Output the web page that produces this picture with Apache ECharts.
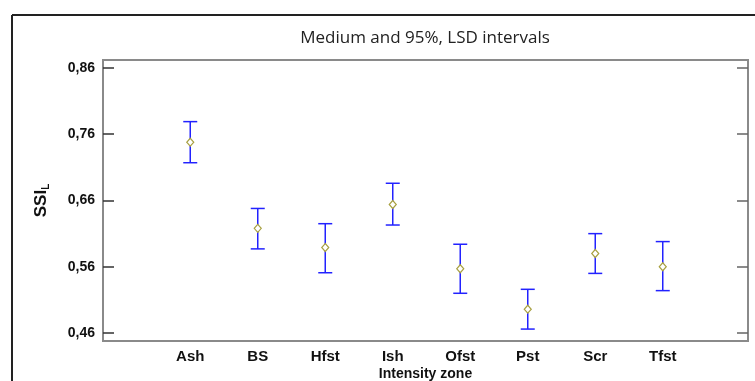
<!DOCTYPE html>
<html><head><meta charset="utf-8">
<script src="https://cdn.jsdelivr.net/npm/echarts@6/dist/echarts.min.js"></script>
<style>html,body{margin:0;padding:0;background:#fff}#c{width:755px;height:381px}</style>
</head><body><div id="c"></div>
<script>
const categories = ['Ash','BS','Hfst','Ish','Ofst','Pst','Scr','Tfst'];
const means = [0.748,0.618,0.589,0.654,0.557,0.496,0.580,0.560];
const lower = [0.717,0.587,0.551,0.623,0.520,0.466,0.550,0.524];
const upper = [0.779,0.648,0.625,0.686,0.594,0.526,0.610,0.598];
const yTicks = [0.46,0.56,0.66,0.76,0.86];
const yMin = 0.448, yMax = 0.872;

const chart = echarts.init(document.getElementById('c'));
const fmt = v => Number(v).toFixed(2).replace('.', ',');
const boldFont = 'Liberation Sans';
chart.setOption({
  animation: false,
  title: {text: 'Medium and 95%, LSD intervals', left: 420, top: 25, textAlign: 'center',
    textStyle: {fontFamily: 'Open Sans', fontWeight: 'normal', fontSize: 17, color: '#222'}},
  graphic: [
    {type: 'line', shape: {x1: 12, y1: 15, x2: 755, y2: 15}, style: {stroke: '#222', lineWidth: 2}},
    {type: 'line', shape: {x1: 12, y1: 15, x2: 12, y2: 381}, style: {stroke: '#222', lineWidth: 2}}
  ],
  grid: [
    {left: 103, top: 60, width: 645, height: 281, show: true, borderColor: '#8a8a8a', borderWidth: 2,
     backgroundColor: 'transparent', outerBoundsMode: 'none', containLabel: false},
    {left: 156.5, top: 60, width: 540, height: 281, outerBoundsMode: 'none', containLabel: false}
  ],
  xAxis: [
    {gridIndex: 0, type: 'value', min: 0, max: 1, axisLine: {show: false}, axisTick: {show: false},
     axisLabel: {show: false}, splitLine: {show: false},
     name: 'Intensity zone', nameLocation: 'middle', nameGap: 26,
     nameTextStyle: {fontFamily: boldFont, fontWeight: 'bold', fontSize: 14, color: '#111'}},
    {gridIndex: 1, type: 'category', data: categories, boundaryGap: true,
     axisLine: {show: false}, axisTick: {show: false}, splitLine: {show: false},
     axisLabel: {margin: 8, fontFamily: boldFont, fontWeight: 'bold', fontSize: 15, color: '#111'}}
  ],
  yAxis: [
    {gridIndex: 0, type: 'value', min: yMin, max: yMax, position: 'left',
     axisLine: {show: false}, splitLine: {show: false},
     axisTick: {show: true, inside: true, length: 11, customValues: yTicks, lineStyle: {color: '#333', width: 1.5}},
     axisLabel: {customValues: yTicks, formatter: fmt, margin: 8, fontFamily: boldFont, fontWeight: 'bold', fontSize: 14, color: '#111'},
     name: '{a|SSI}{b|L}', nameLocation: 'middle', nameGap: 52, nameRotate: 90,
     nameTextStyle: {rich: {
       a: {fontFamily: boldFont, fontWeight: 'bold', fontSize: 17, color: '#111'},
       b: {fontFamily: boldFont, fontWeight: 'bold', fontSize: 10, color: '#111', padding: [9, 0, 0, 0]}}}},
    {gridIndex: 0, type: 'value', min: yMin, max: yMax, position: 'right',
     axisLine: {show: false}, splitLine: {show: false}, axisLabel: {show: false},
     axisTick: {show: true, inside: true, length: 11, customValues: yTicks, lineStyle: {color: '#666', width: 1.5}}},
    {gridIndex: 1, type: 'value', min: yMin, max: yMax, show: false}
  ],
  series: [
    {type: 'custom', xAxisIndex: 1, yAxisIndex: 2,
     data: categories.map((c, i) => [i, lower[i], upper[i]]),
     renderItem: function (params, api) {
       const lo = api.coord([api.value(0), api.value(1)]);
       const hi = api.coord([api.value(0), api.value(2)]);
       const w = 7;
       const st = {stroke: '#2222ff', lineWidth: 1.5};
       return {type: 'group', children: [
         {type: 'line', shape: {x1: hi[0], y1: hi[1], x2: lo[0], y2: lo[1]}, style: st},
         {type: 'line', shape: {x1: hi[0]-w, y1: hi[1], x2: hi[0]+w, y2: hi[1]}, style: st},
         {type: 'line', shape: {x1: lo[0]-w, y1: lo[1], x2: lo[0]+w, y2: lo[1]}, style: st}
       ]};
     }},
    {type: 'scatter', xAxisIndex: 1, yAxisIndex: 2, symbol: 'diamond', symbolSize: [7, 8],
     itemStyle: {color: '#fff', borderColor: '#a8a040', borderWidth: 1.2, opacity: 1},
     data: categories.map((c, i) => [i, means[i]]), z: 5}
  ]
});
</script></body></html>
